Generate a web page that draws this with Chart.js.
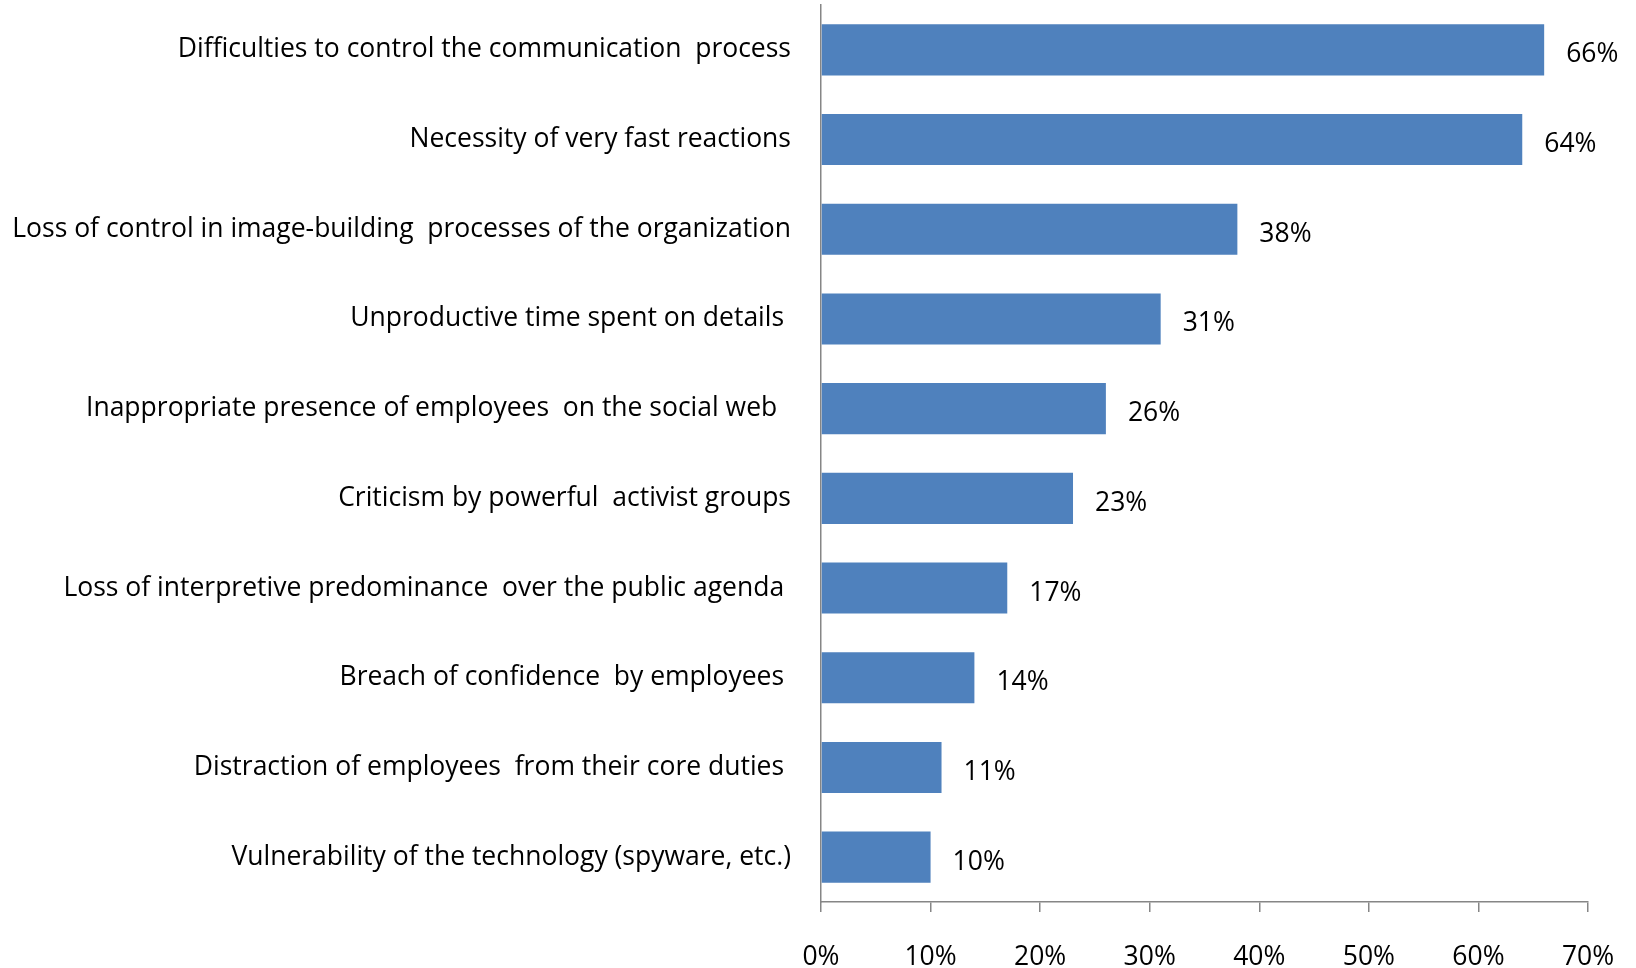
<!DOCTYPE html>
<html>
<head>
<meta charset="utf-8">
<script src="https://cdn.jsdelivr.net/npm/chart.js@4"></script>
<style>
  html, body { margin: 0; padding: 0; background: #ffffff; }
  #wrap { width: 1636px; height: 968px; }
</style>
</head>
<body>
<div id="wrap"><canvas id="risks" width="1636" height="968"></canvas></div>
<script>
// Chart data
const categories = [
    'Difficulties to control the communication  process',
    'Necessity of very fast reactions',
    'Loss of control in image-building  processes of the organization',
    'Unproductive time spent on details ',
    'Inappropriate presence of employees  on the social web  ',
    'Criticism by powerful  activist groups',
    'Loss of interpretive predominance  over the public agenda ',
    'Breach of confidence  by employees ',
    'Distraction of employees  from their core duties ',
    'Vulnerability of the technology (spyware, etc.)'
];
const shares = [66, 64, 38, 31, 26, 23, 17, 14, 11, 10];
const tickValues = [0, 10, 20, 30, 40, 50, 60, 70];

const FONT = '"Open Sans", Lato, sans-serif';
const FONT_SIZE = 26.5;
const AXIS_GREY = '#868686';

// draws the "66%" style labels to the right of each bar
const valueLabels = {
    id: 'valueLabels',
    afterDatasetsDraw(chart) {
        const ctx = chart.ctx;
        const meta = chart.getDatasetMeta(0);
        ctx.save();
        ctx.font = FONT_SIZE + 'px ' + FONT;
        ctx.fillStyle = '#000000';
        ctx.textAlign = 'left';
        ctx.textBaseline = 'middle';
        meta.data.forEach((bar, i) => {
            ctx.fillText(shares[i] + '%', bar.x + 22, bar.y + 5);
        });
        ctx.restore();
    }
};

new Chart(document.getElementById('risks'), {
    type: 'bar',
    data: {
        labels: categories,
        datasets: [{
            data: shares,
            backgroundColor: '#4F81BD',
            borderWidth: 0,
            barPercentage: 0.57,
            categoryPercentage: 1
        }]
    },
    options: {
        indexAxis: 'y',
        responsive: false,
        animation: false,
        layout: {
            padding: { top: 5, right: 48, bottom: 0, left: 0 }
        },
        plugins: {
            legend: { display: false },
            tooltip: { enabled: false }
        },
        scales: {
            x: {
                min: 0,
                max: 70,
                afterBuildTicks: function(scale) {
                    scale.ticks = tickValues.map(v => ({ value: v }));
                },
                afterFit: function(scale) {
                    scale.height = 66;
                    scale.paddingLeft = 0;
                    scale.paddingRight = 0;
                },
                grid: {
                    display: true,
                    drawOnChartArea: false,
                    drawTicks: true,
                    tickLength: 10,
                    color: AXIS_GREY,
                    lineWidth: 1.5
                },
                border: { display: true, color: AXIS_GREY, width: 1.5 },
                ticks: {
                    padding: 30,
                    color: '#000000',
                    font: { family: FONT, size: FONT_SIZE },
                    callback: v => v + '%',
                    maxRotation: 0
                }
            },
            y: {
                // grid hidden, but tickLength still pushes the labels away from the axis
                grid: { display: false, drawTicks: true, tickLength: 30 },
                border: { display: true, color: AXIS_GREY, width: 1.5 },
                afterFit: function(scale) {
                    scale.width = 821;
                    // labels may hang over the top, the plot starts near the edge
                    scale.paddingTop = 0;
                    scale.paddingBottom = 0;
                },
                ticks: {
                    padding: 0,
                    color: '#000000',
                    font: { family: FONT, size: FONT_SIZE },
                    autoSkip: false
                }
            }
        }
    },
    plugins: [valueLabels]
});
</script>
</body>
</html>
